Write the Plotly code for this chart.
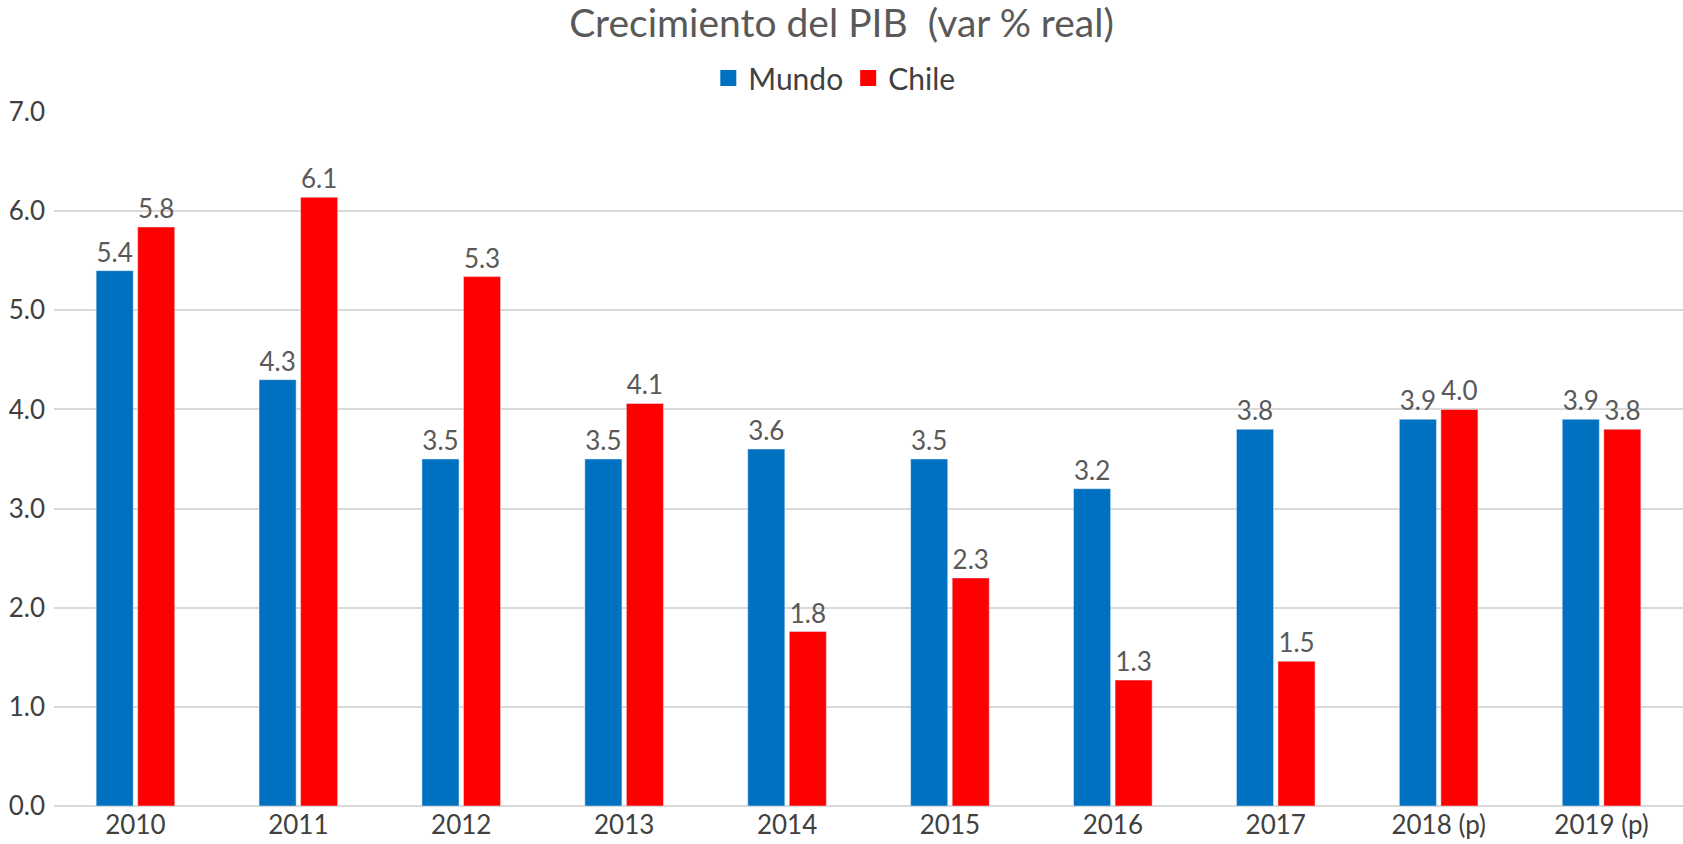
import plotly.graph_objects as go

categories = ["2010", "2011", "2012", "2013", "2014", "2015", "2016", "2017", "2018 (p)", "2019 (p)"]
mundo = [5.4, 4.3, 3.5, 3.5, 3.6, 3.5, 3.2, 3.8, 3.9, 3.9]
chile = [5.84, 6.14, 5.34, 4.06, 1.76, 2.3, 1.27, 1.46, 4.0, 3.8]
y_ticks = [0, 1, 2, 3, 4, 5, 6, 7]
series_names = ["Mundo", "Chile"]
series_colors = ["#0070C0", "#FF0000"]

FONT = "Lato, Carlito, 'Liberation Sans', sans-serif"
GREY = "#595959"
DARK = "#404040"

fig = go.Figure()
for name, vals, col in zip(series_names, [mundo, chile], series_colors):
    fig.add_trace(go.Bar(name=name, x=categories, y=vals, marker_color=col,
                         texttemplate="%{y:.1f}", textposition="outside",
                         textfont=dict(size=26, color=GREY, family=FONT), cliponaxis=False,
                         showlegend=False, legendgroup=name))
for name, col in zip(series_names, series_colors):
    fig.add_trace(go.Scatter(name=name, x=[None], y=[None], mode="markers",
                             marker=dict(symbol="square", size=17, color=col),
                             legendgroup=name, showlegend=True, hoverinfo="skip"))

fig.update_layout(
    width=1683, height=844,
    paper_bgcolor="white", plot_bgcolor="white",
    font=dict(family=FONT, color=DARK, size=26),
    title=dict(text="Crecimiento del PIB  (var % real)", x=0.5, xanchor="center",
               y=0.972, yanchor="middle", font=dict(size=39, color=GREY, family=FONT)),
    legend=dict(orientation="h", x=0.479, xanchor="center", y=1.049, yanchor="middle",
                font=dict(size=30, color=DARK, family=FONT), traceorder="normal",
                itemwidth=30, bgcolor="rgba(0,0,0,0)"),
    barmode="group", bargap=0.49, bargroupgap=0.108,
    margin=dict(l=54, r=0, t=112, b=38, autoexpand=False),
    xaxis=dict(showgrid=False, showline=False, ticks="", automargin=False,
               tickfont=dict(size=26, color=DARK, family=FONT), ticklabelstandoff=1),
    yaxis=dict(range=[0, 7], tickvals=y_ticks, tickformat=".1f", showgrid=True,
               gridcolor="#D9D9D9", gridwidth=2, zeroline=True, zerolinecolor="#D9D9D9",
               zerolinewidth=2, ticks="", automargin=False,
               tickfont=dict(size=26, color=DARK, family=FONT),
               ticklabelstandoff=8),
    showlegend=True,
)
fig.write_html("out.html", config={"displayModeBar": False},
               post_script="document.body.style.margin='0px';document.body.style.overflow='hidden';")
